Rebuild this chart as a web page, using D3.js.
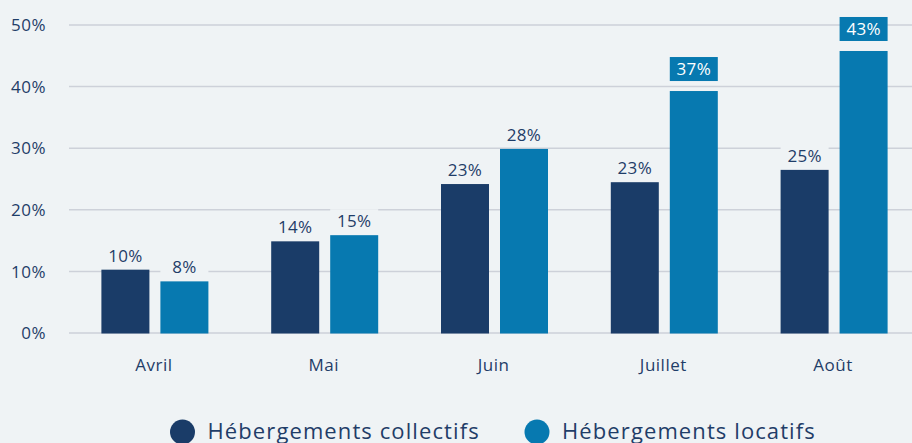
<!DOCTYPE html>
<html>
<head>
<meta charset="utf-8">
<script src="https://cdn.jsdelivr.net/npm/d3@7"></script>
<style>
  body { margin: 0; background: #eff3f5; }
  svg { display: block; font-family: "Open Sans", sans-serif; }
  .tick text { fill: #1f3d68; font-size: 17px; }
</style>
</head>
<body>
<div id="chart"></div>
<script>
var months = ["Avril", "Mai", "Juin", "Juillet", "Août"];
var series = ["Hébergements collectifs", "Hébergements locatifs"];
var collectifs = [10.2, 14.8, 24.1, 24.4, 26.4];
var locatifs = [8.3, 15.8, 29.8, 39.2, 45.7];
var collectifsLabels = ["10%", "14%", "23%", "23%", "25%"];
var locatifsLabels = ["8%", "15%", "28%", "37%", "43%"];
var highlighted = [false, false, false, true, true];
var yTicks = [0, 10, 20, 30, 40, 50];

function init() {
    var w = 912;
    var h = 443;
    var colors = ["#1a3c68", "#0779b0"];
    var bg = "#eff3f5";
    var textColor = "#1f3d68";

    var svg = d3.select("#chart")
        .append("svg")
        .attr("width", w)
        .attr("height", h);

    svg.append("rect")
        .attr("width", w)
        .attr("height", h)
        .attr("fill", bg);

    var xScale = d3.scaleBand()
        .domain(months)
        .range([70, 919]);

    var bw = xScale.bandwidth();
    var x1 = d3.scaleBand()
        .domain(series)
        .range([bw / 2 - 53.5, bw / 2 + 53.5])
        .paddingInner(0.1864);

    var yScale = d3.scaleLinear()
        .domain([0, 50])
        .range([332.5, 24.5]);

    // gridlines + y labels
    var yAxis = d3.axisLeft(yScale)
        .tickValues(yTicks)
        .tickSize(-(w - 69))
        .tickPadding(23)
        .tickFormat(function(d) { return d + "%"; });

    var gy = svg.append("g")
        .attr("transform", "translate(69,0)")
        .call(yAxis)
        .attr("font-family", null)
        .attr("font-size", null);
    gy.select(".domain").remove();
    gy.selectAll(".tick line")
        .attr("stroke", "#cdd1d9")
        .attr("stroke-width", 1.5);
    gy.selectAll(".tick text")
        .attr("x", -23)
        .attr("dy", "0.36em")
        .attr("letter-spacing", "0.5px");

    // x labels
    var xAxis = d3.axisBottom(xScale).tickSize(0).tickPadding(0);
    var gx = svg.append("g")
        .attr("transform", "translate(0,371)")
        .call(xAxis)
        .attr("font-family", null)
        .attr("font-size", null);
    gx.select(".domain").remove();
    gx.selectAll(".tick text")
        .attr("dy", 0)
        .attr("x", -1)
        .attr("letter-spacing", "0.5px");

    var rows = months.map(function(m, i) {
        return [
            { month: m, key: series[0], value: collectifs[i], label: collectifsLabels[i], hl: false, c: colors[0] },
            { month: m, key: series[1], value: locatifs[i], label: locatifsLabels[i], hl: highlighted[i], c: colors[1] }
        ];
    });

    var groups = svg.selectAll(".grp")
        .data(rows)
        .enter()
        .append("g")
        .attr("class", "grp")
        .attr("transform", function(d) { return "translate(" + xScale(d[0].month) + ",0)"; });

    var items = groups.selectAll(".item")
        .data(function(d) { return d; })
        .enter()
        .append("g")
        .attr("class", "item");

    items.append("rect")
        .attr("x", function(d) { return x1(d.key); })
        .attr("y", function(d) { return yScale(d.value); })
        .attr("width", x1.bandwidth())
        .attr("height", function(d) { return yScale(0) - yScale(d.value) + 1; })
        .attr("fill", function(d) { return d.c; });

    // label boxes
    items.append("rect")
        .attr("x", function(d) { return x1(d.key); })
        .attr("y", function(d) { return yScale(d.value) - (d.hl ? 34 : 26); })
        .attr("width", x1.bandwidth())
        .attr("height", 24)
        .attr("fill", function(d) { return d.hl ? colors[1] : bg; });

    items.append("text")
        .attr("x", function(d) { return x1(d.key) + x1.bandwidth() / 2; })
        .attr("y", function(d) { return yScale(d.value) - (d.hl ? 22 : 14); })
        .attr("dy", "0.36em")
        .attr("text-anchor", "middle")
        .attr("font-size", "17px")
        .attr("letter-spacing", "0.3px")
        .attr("fill", function(d) { return d.hl ? "#ffffff" : textColor; })
        .text(function(d) { return d.label; });

    // legend
    var legendX = [182.5, 537];
    var legend = svg.selectAll(".legend")
        .data(series)
        .enter()
        .append("g")
        .attr("class", "legend")
        .attr("transform", function(d, i) { return "translate(" + legendX[i] + ",432)"; });

    legend.append("circle")
        .attr("r", 12.5)
        .attr("fill", function(d, i) { return colors[i]; });

    legend.append("text")
        .attr("x", 25)
        .attr("y", 6.5)
        .attr("font-size", "22px")
        .attr("letter-spacing", "1.1px")
        .attr("fill", textColor)
        .text(function(d) { return d; });
}
window.onload = init;
</script>
</body>
</html>
